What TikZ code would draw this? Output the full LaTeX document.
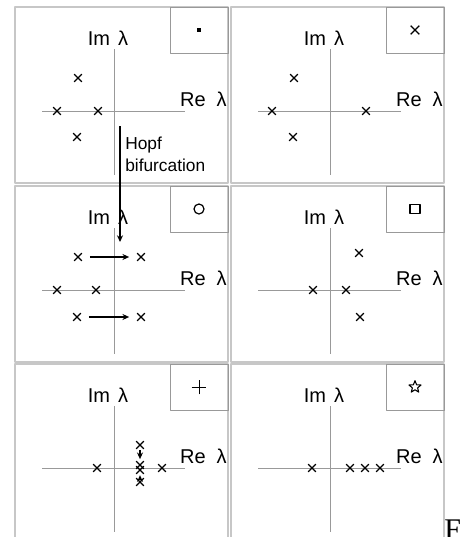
\documentclass[tikz,border=0pt]{standalone}
\usepackage{fontspec}
\setmainfont{Liberation Sans}
\newfontfamily\serifF{Liberation Serif}
\usetikzlibrary{shapes.misc,shapes.geometric,arrows.meta}

\begin{document}
\begin{tikzpicture}[x=0.75pt, y=-0.75pt, font=\fontsize{13}{16.5}\selectfont, line join=round, >={Stealth[length=5pt,width=4.5pt]},
	frame/.style={draw=black!22, line width=1.1pt},
	axis/.style={draw=black!40, line width=0.6pt},
	keybox/.style={draw=black!40, line width=0.7pt},
	lab/.style={inner sep=0pt},
	axlab/.style={inner sep=0pt, font=\fontsize{15}{18}\selectfont},
	ev/.style={cross out, draw, line width=1pt, minimum size=4.8pt, inner sep=0pt},
	move/.style={->, line width=0.9pt, shorten <=6pt, shorten >=6pt},
	plane/.pic={
		\draw[frame] (0,0) rectangle (213,176);
		\draw[keybox] (155,0) rectangle (213,46);
		\draw[axis] (99,42) -- (99,168) (27,104) -- (170,104);
		\node[axlab, anchor=base] (-im) at (93,38) {Im\hspace{0.4em}λ};
		\node[axlab, anchor=base east] (-re) at (212,99) {Re\hspace{0.55em}λ};
		\coordinate (-key) at (184,23);
	}]
	\useasboundingbox (0,0) rectangle (467,537);
	
	% panel 1
	\pic (p1) at (15,7) {plane};
	\node[fill, minimum size=3pt, inner sep=0pt] (k1) at (p1-key) {};
	\path (78,78) node[ev] (p1a) {} (57,111) node[ev] (p1b) {}
		(98,111) node[ev] (p1c) {} (77,137) node[ev] (p1d) {};
	
	% panel 2
	\pic (p2) at (231,7) {plane};
	\node[ev, minimum size=5.5pt] (k2) at (p2-key) {};
	\path (294,78) node[ev] (p2a) {} (272,111) node[ev] (p2b) {}
		(366,111) node[ev] (p2c) {} (293,137) node[ev] (p2d) {};
	
	% panel 3
	\pic (p3) at (15,186) {plane};
	\node[circle, draw, line width=0.9pt, minimum size=7.5pt, inner sep=0pt] (k3) at (p3-key) {};
	\path (78,257) node[ev] (p3a) {} (141,257) node[ev] (p3b) {}
		(57,290) node[ev] (p3c) {} (96,290) node[ev] (p3d) {}
		(77,317) node[ev] (p3e) {} (141,317) node[ev] (p3f) {};
	\draw[move] (p3a) -- (p3b);
	\draw[move] (p3e) -- (p3f);
	
	% panel 4
	\pic (p4) at (231,186) {plane};
	\node[rectangle, draw, line width=0.9pt, minimum width=7.5pt, minimum height=6.5pt, inner sep=0pt] (k4) at (p4-key) {};
	\path (359,253) node[ev] (p4a) {} (313,290) node[ev] (p4b) {}
		(346,290) node[ev] (p4c) {} (360,317) node[ev] (p4d) {};
	
	% panel 5
	\pic (p5) at (15,364) {plane};
	\node[cross out, rotate=45, draw, line width=0.7pt, minimum size=7pt, inner sep=0pt] (k5) at (p5-key) {};
	\path (97,468) node[ev] (p5a) {} (162,468) node[ev] (p5b) {}
		(140,445) node[ev] (p5c) {} (140,465) node[ev] (p5d) {}
		(140,470) node[ev] (p5e) {} (140,482) node[ev] (p5f) {};
	\draw[move, shorten <=1pt, shorten >=1.5pt] (p5c) -- (p5d);
	\draw[move, shorten <=1pt, shorten >=1pt] (p5f) -- (p5e);
	
	% panel 6
	\pic (p6) at (231,364) {plane};
	\node[star, star points=5, star point ratio=2.3, draw, line width=0.8pt, minimum size=9.5pt, inner sep=0pt] (k6) at (p6-key) {};
	\path (312,468) node[ev] (p6a) {} (350,468) node[ev] (p6b) {}
		(365,468) node[ev] (p6c) {} (380,468) node[ev] (p6d) {};
	
	% Hopf bifurcation arrow
	\path (120,126) coordinate (hopf-top) (120,242) coordinate (hopf-tip);
	\draw[->, line width=0.9pt] (hopf-top) -- (hopf-tip);
	\node[lab, anchor=north west, align=left] (hopf) at (125,137) {Hopf\\bifurcation};
	
	\node[lab, anchor=base west, font=\serifF\fontsize{22.5}{22.5}\selectfont] (fig) at (444,539) {F};
\end{tikzpicture}
\end{document}
